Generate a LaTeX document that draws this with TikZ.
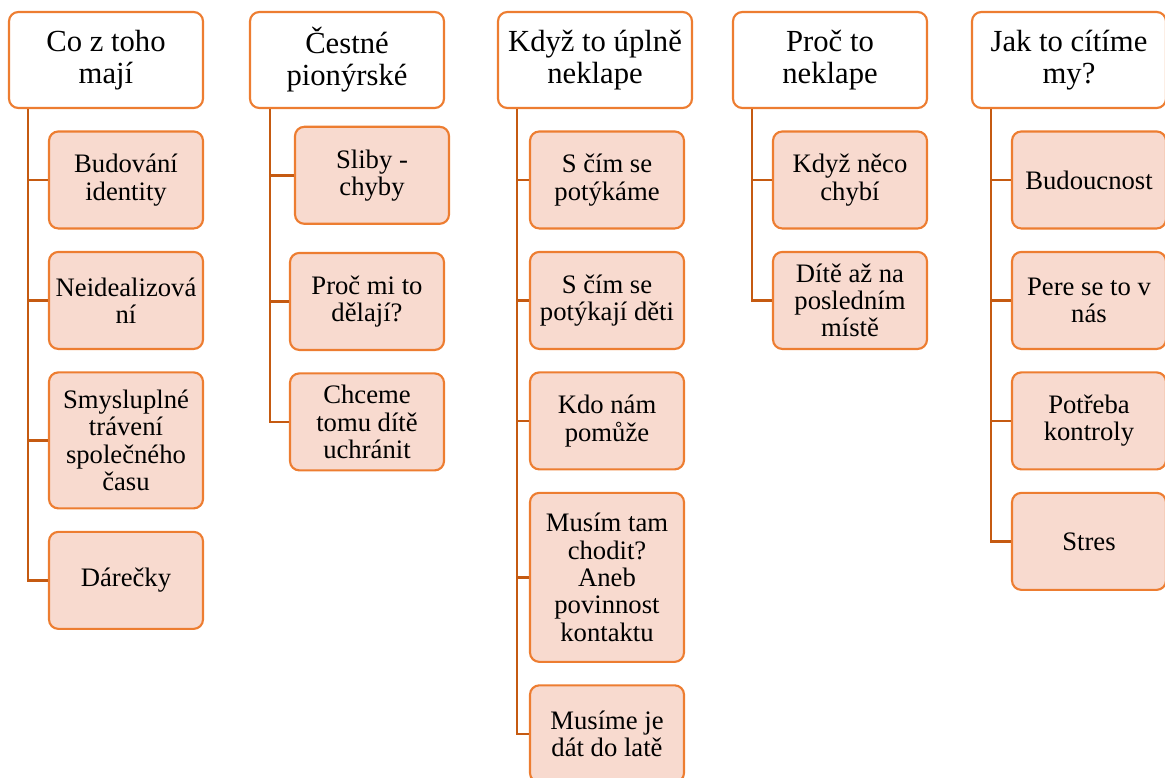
\documentclass[tikz,border=0pt]{standalone}
\usepackage{fontspec}
\setmainfont{Liberation Serif}
\usetikzlibrary{positioning}
\definecolor{boxline}{RGB}{237,125,49}
\definecolor{linkline}{RGB}{197,90,17}
\definecolor{boxfill}{RGB}{248,218,207}
\tikzset{
head/.style={draw=boxline, line width=1.6pt, fill=white, rounded corners=7pt, minimum width=145.5pt, minimum height=72pt, align=center, font=\fontsize{23}{24}\selectfont}, % top box of a column
item/.style={draw=boxline, line width=1.6pt, fill=boxfill, rounded corners=7pt, minimum width=115.5pt, minimum height=72.75pt, inner sep=2pt, align=center, font=\fontsize{20}{20.5}\selectfont}, % box under a top box
link/.style={draw=linkline, line width=1.8pt}, % the lines between them
node distance=16pt, % gap between boxes in a column
}

\begin{document}
\begin{tikzpicture}[x=0.75pt, y=-0.75pt]
\useasboundingbox (0,0) rectangle (1165,778);
% top boxes
\node[head] (h1) at (106,60) {Co z toho\\mají};
\node[head] (h2) at (347,60) {Čestné\\pionýrské};
\node[head] (h3) at (595,60) {Když to úplně\\neklape};
\node[head] (h4) at (830,60) {Proč to\\neklape};
\node[head] (h5) at (1069,60) {Jak to cítíme\\my?};
% column 1
\node[item, below=of h1.south east, anchor=north east] (c11) {Budování\\identity};
\node[item, below=of c11] (c12) {Neidealizová\\ní};
\node[item, below=of c12, minimum height=102pt] (c13) {Smysluplné\\trávení\\společného\\času};
\node[item, below=of c13] (c14) {Dárečky};
% column 2
\node[item, below=12.5pt of h2.south east, anchor=north east, xshift=3.75pt] (c21) {Sliby -\\chyby};
\node[item, below=20.25pt of c21, xshift=-3.75pt] (c22) {Proč mi to\\dělají?};
\node[item, below=of c22] (c23) {Chceme\\tomu dítě\\uchránit};
% column 3
\node[item, below=of h3.south east, anchor=north east, xshift=-6pt] (c31) {S čím se\\potýkáme};
\node[item, below=of c31] (c32) {S čím se\\potýkají děti};
\node[item, below=of c32] (c33) {Kdo nám\\pomůže};
\node[item, below=of c33, minimum height=126.75pt] (c34) {Musím tam\\chodit?\\Aneb\\povinnost\\kontaktu};
\node[item, below=of c34] (c35) {Musíme je\\dát do latě};
% column 4
\node[item, below=of h4.south east, anchor=north east] (c41) {Když něco\\chybí};
\node[item, below=of c41] (c42) {Dítě až na\\posledním\\místě};
% column 5
\node[item, below=of h5.south east, anchor=north east] (c51) {Budoucnost};
\node[item, below=of c51] (c52) {Pere se to v\\nás};
\node[item, below=of c52] (c53) {Potřeba\\kontroly};
\node[item, below=of c53] (c54) {Stres};
% lines
\draw[link] ([xshift=15pt]h1.south west) |- (c11.west);
\draw[link] ([xshift=15pt]h1.south west) |- (c12.west);
\draw[link] ([xshift=15pt]h1.south west) |- (c13.west);
\draw[link] ([xshift=15pt]h1.south west) |- (c14.west);
\draw[link] ([xshift=15.75pt]h2.south west) |- (c21.west);
\draw[link] ([xshift=15.75pt]h2.south west) |- (c22.west);
\draw[link] ([xshift=15.75pt]h2.south west) |- (c23.west);
\draw[link] ([xshift=15pt]h3.south west) |- (c31.west);
\draw[link] ([xshift=15pt]h3.south west) |- (c32.west);
\draw[link] ([xshift=15pt]h3.south west) |- (c33.west);
\draw[link] ([xshift=15pt]h3.south west) |- (c34.west);
\draw[link] ([xshift=15pt]h3.south west) |- (c35.west);
\draw[link] ([xshift=15pt]h4.south west) |- (c41.west);
\draw[link] ([xshift=15pt]h4.south west) |- (c42.west);
\draw[link] ([xshift=15pt]h5.south west) |- (c51.west);
\draw[link] ([xshift=15pt]h5.south west) |- (c52.west);
\draw[link] ([xshift=15pt]h5.south west) |- (c53.west);
\draw[link] ([xshift=15pt]h5.south west) |- (c54.west);
\end{tikzpicture}
\end{document}
